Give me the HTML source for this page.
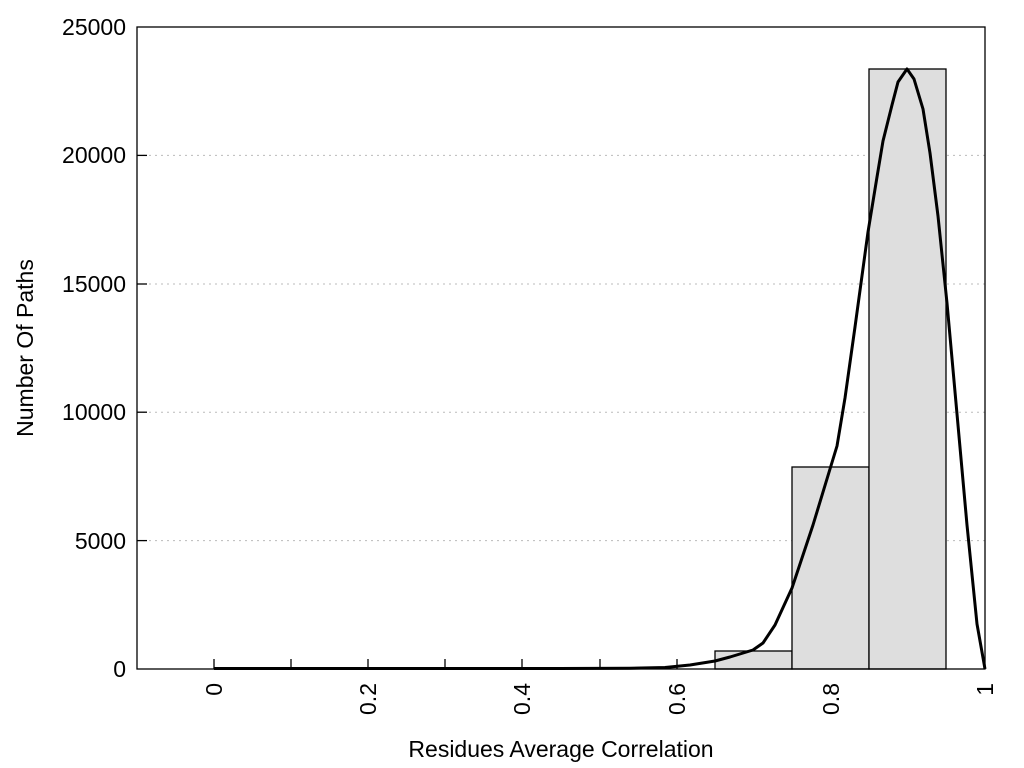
<!DOCTYPE html>
<html><head><meta charset="utf-8"><style>
html,body{margin:0;padding:0;background:#fff;width:1024px;height:768px;overflow:hidden}
text{font-family:"Liberation Sans",Arial,sans-serif;fill:#000}
</style></head><body>
<svg width="1024" height="768" viewBox="0 0 1024 768" xmlns="http://www.w3.org/2000/svg">
<g stroke="#bbb" stroke-width="1" stroke-dasharray="2,4">
<line x1="137" y1="155.4" x2="985" y2="155.4"/>
<line x1="137" y1="284" x2="985" y2="284"/>
<line x1="137" y1="412.2" x2="985" y2="412.2"/>
<line x1="137" y1="540.6" x2="985" y2="540.6"/>
</g>
<g fill="#dedede" stroke="#000" stroke-width="1.3">
<rect x="715" y="651" width="77" height="18"/>
<rect x="792" y="467" width="77" height="202"/>
<rect x="869" y="69" width="77" height="600"/>
</g>
<g stroke="#000" stroke-width="1.3">
<line x1="214" y1="669" x2="214" y2="659"/>
<line x1="291" y1="669" x2="291" y2="659"/>
<line x1="368" y1="669" x2="368" y2="659"/>
<line x1="445" y1="669" x2="445" y2="659"/>
<line x1="522" y1="669" x2="522" y2="659"/>
<line x1="600" y1="669" x2="600" y2="659"/>
<line x1="677" y1="669" x2="677" y2="659"/>
<line x1="137" y1="155.4" x2="147" y2="155.4"/>
<line x1="137" y1="284" x2="147" y2="284"/>
<line x1="137" y1="412.2" x2="147" y2="412.2"/>
<line x1="137" y1="540.6" x2="147" y2="540.6"/>
</g>
<polyline fill="none" stroke="#000" stroke-width="3" stroke-linejoin="round" points="214,668.5 560,668.5 630,668.3 665,667.5 690,665 715,661 730,657 753,650 763,643 775,625 792,588 813,525 830,469 837,446 845,398 855,327 868,232 877,177 883,141 892,105 898,82 907,69 914,79 923,109 930,153 938,216 947,303 957,414 967,525 977,624 985,669"/>
<rect x="137" y="27" width="848" height="642" fill="none" stroke="#000" stroke-width="1.3"/>
<g font-size="23" text-anchor="end">
<text x="126" y="35">25000</text>
<text x="126" y="163">20000</text>
<text x="126" y="292">15000</text>
<text x="126" y="420">10000</text>
<text x="126" y="549">5000</text>
<text x="126" y="677">0</text>
</g>
<g font-size="23" text-anchor="end">
<text transform="translate(222,683) rotate(-90)">0</text>
<text transform="translate(376,683) rotate(-90)">0.2</text>
<text transform="translate(530,683) rotate(-90)">0.4</text>
<text transform="translate(685,683) rotate(-90)">0.6</text>
<text transform="translate(839,683) rotate(-90)">0.8</text>
<text transform="translate(993,683) rotate(-90)">1</text>
</g>
<text x="561" y="757" font-size="23" text-anchor="middle">Residues Average Correlation</text>
<text transform="translate(33,348) rotate(-90)" font-size="23" text-anchor="middle">Number Of Paths</text>
</svg>
</body></html>
